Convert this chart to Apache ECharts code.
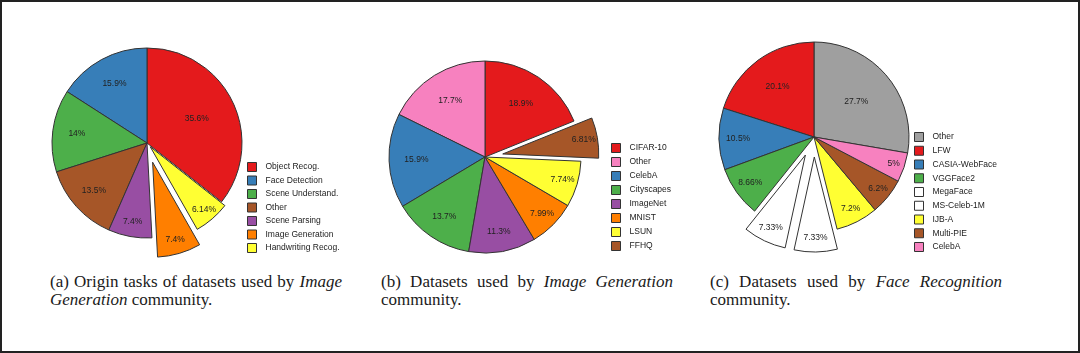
<!DOCTYPE html>
<html>
<head>
<meta charset="utf-8">
<script src="https://cdn.jsdelivr.net/npm/echarts@6/dist/echarts.min.js"></script>
<style>
  html, body { margin: 0; padding: 0; background: #fff; }
  #wrap { position: relative; width: 1080px; height: 353px; overflow: hidden; background: #fff; }
  #frame { position: absolute; left: 0; top: 0; width: 1080px; height: 353px; box-sizing: border-box; border: 2px solid #222; pointer-events: none; }
  .chart { position: absolute; top: 0; height: 270px; }
  .cap {
    position: absolute; top: 273px; width: 292px;
    font-family: "Liberation Serif", "DejaVu Serif", serif;
    font-size: 17px; line-height: 17.5px; color: #1a1a1a; text-align: justify;
  }
</style>
</head>
<body>
<div id="wrap">
  <div id="pieA" class="chart" style="left:0;width:360px"></div>
  <div id="pieB" class="chart" style="left:360px;width:340px"></div>
  <div id="pieC" class="chart" style="left:700px;width:380px"></div>
  <div class="cap" style="left:50px">(a) Origin tasks of datasets used by <i>Image Generation</i> community.</div>
  <div class="cap" style="left:381px">(b) Datasets used by <i>Image Generation</i> community.</div>
  <div class="cap" style="left:710px">(c) Datasets used by <i>Face Recognition</i> community.</div>
  <div id="frame"></div>
</div>
<script>
// (a) origin tasks
const tasksA = ["Object Recog.", "Face Detection", "Scene Understand.", "Other", "Scene Parsing", "Image Generation", "Handwriting Recog."];
const shareA = [35.6, 15.9, 14, 13.5, 7.4, 7.4, 6.14];
// (b) image generation datasets
const datasetsB = ["CIFAR-10", "Other", "CelebA", "Cityscapes", "ImageNet", "MNIST", "LSUN", "FFHQ"];
const shareB = [18.9, 17.7, 15.9, 13.7, 11.3, 7.99, 7.74, 6.81];
// (c) face recognition datasets
const datasetsC = ["Other", "LFW", "CASIA-WebFace", "VGGFace2", "MegaFace", "MS-Celeb-1M", "IJB-A", "Multi-PIE", "CelebA"];
const shareC = [27.7, 20.1, 10.5, 8.66, 7.33, 7.33, 7.2, 6.2, 5];

const RED = "#e41a1c", BLUE = "#377eb8", GREEN = "#4daf4a", PURPLE = "#984ea3",
      ORANGE = "#ff7f00", YELLOW = "#ffff33", BROWN = "#a65628", PINK = "#f781bf",
      GRAY = "#9f9f9f", WHITE = "#ffffff";

const FONT = "Liberation Sans";

function makePie(el, names, values, colors, explode, geo) {
  const chart = echarts.init(document.getElementById(el), null, { renderer: "canvas" });
  const total = values.reduce((s, v) => s + v, 0);
  // first slice ends at 12 o'clock, rest go counterclockwise
  const start = 90 - 360 * values[0] / total;
  let acc = 0;
  const mids = values.map(v => {
    const m = start + 360 * (acc + v / 2) / total;
    acc += v;
    return m;
  });
  const groups = [0].concat(Array.from(new Set(Object.values(explode))));

  const series = groups.map(off => ({
    type: "pie",
    center: geo.center,
    radius: geo.r,
    clockwise: false,
    startAngle: start,
    selectedMode: "multiple",
    selectedOffset: off,
    avoidLabelOverlap: false,
    animation: false,
    silent: true,
    label: {
      position: "inside",
      formatter: p => p.value + "%",
      fontFamily: FONT,
      fontSize: 8.5,
      color: "#222"
    },
    labelLine: { show: false },
    // smaller slices carry their label further out
    labelLayout: p => {
      const pct = values[p.dataIndex] / total * 100;
      const f = Math.min(0.87, Math.max(0.55, 0.93 - 0.0155 * pct));
      const a = mids[p.dataIndex] * Math.PI / 180;
      const s = (f - 0.5) * geo.r;
      return { dx: Math.cos(a) * s, dy: -Math.sin(a) * s };
    },
    data: names.map((n, i) => {
      const mine = (explode[n] || 0) === off;
      return {
        name: n,
        value: values[i],
        selected: mine && off > 0,
        itemStyle: mine
          ? { color: colors[i], borderColor: "#333", borderWidth: 1 }
          : { color: "rgba(0,0,0,0)", borderWidth: 0 },
        label: { show: mine }
      };
    })
  }));

  chart.setOption({
    backgroundColor: "transparent",
    legend: {
      orient: "vertical",
      left: geo.legend[0],
      top: geo.legend[1],
      padding: 0,
      itemWidth: 9,
      itemHeight: 9,
      itemGap: geo.legend[2],
      icon: "rect",
      selectedMode: false,
      textStyle: { fontFamily: FONT, fontSize: 8.5, color: "#222", padding: [0, 0, 0, 4] },
      data: names.map((n, i) => ({
        name: n,
        itemStyle: { color: colors[i], borderColor: "#333", borderWidth: 1 }
      }))
    },
    series: series
  });
  return chart;
}

makePie("pieA", tasksA, shareA,
  [RED, BLUE, GREEN, BROWN, PURPLE, ORANGE, YELLOW],
  { "Handwriting Recog.": 5, "Image Generation": 20 },
  { center: [147, 143], r: 95, legend: [247, 162, 3.5] });

makePie("pieB", datasetsB, shareB,
  [RED, PINK, BLUE, GREEN, PURPLE, ORANGE, YELLOW, BROWN],
  { "FFHQ": 18 },
  { center: [125, 157], r: 96, legend: [251, 143, 4] });

makePie("pieC", datasetsC, shareC,
  [GRAY, RED, BLUE, GREEN, WHITE, WHITE, YELLOW, BROWN, PINK],
  { "MegaFace": 20, "MS-Celeb-1M": 20 },
  { center: [114, 137], r: 95, legend: [214, 132, 3.75] });
</script>
</body>
</html>
